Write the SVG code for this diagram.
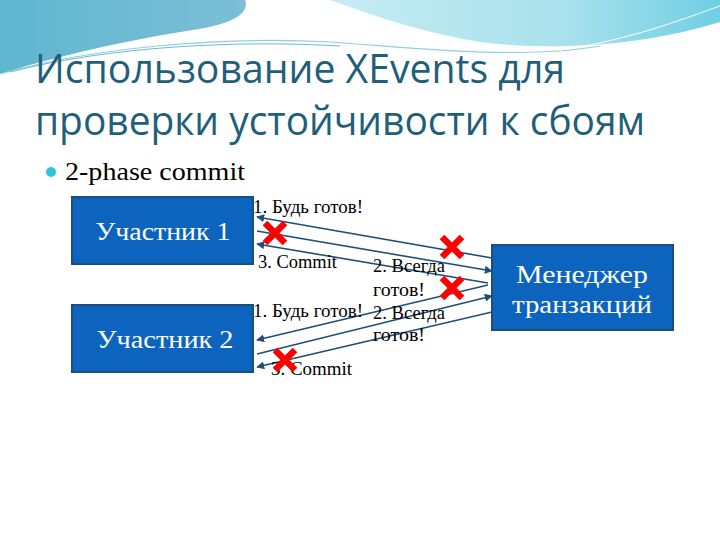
<svg xmlns="http://www.w3.org/2000/svg" width="720" height="540" viewBox="0 0 720 540">
<defs>
<linearGradient id="gl" x1="0" y1="0" x2="1" y2="0"><stop offset="0" stop-color="#5fb6cf"/><stop offset="1" stop-color="#7cbfd6"/></linearGradient>
<linearGradient id="gr" x1="0" y1="0" x2="1" y2="0"><stop offset="0" stop-color="#c6ecf2"/><stop offset="0.6" stop-color="#a9e1ec"/><stop offset="1" stop-color="#6fcfe3"/></linearGradient>
<marker id="ah" viewBox="0 0 10 10" refX="9" refY="5" markerWidth="5" markerHeight="5" orient="auto-start-reverse"><path d="M0,0 L10,5 L0,10 Z" fill="#1f4e79"/></marker>
<style>
.box{fill:#0d64bf;stroke:#1b4e80;stroke-width:2}
.bl{font-family:"Liberation Serif","DejaVu Serif",serif;font-size:26px;fill:#ffffff;text-anchor:middle}
.lbl{font-family:"Liberation Serif","DejaVu Serif",serif;font-size:18px;fill:#000000}
.ln{stroke:#1f4e79;stroke-width:1.6;fill:none}
.x{stroke:#ff0000;stroke-width:6.5;stroke-linecap:butt}
.title{font-family:"Open Sans","Noto Sans",sans-serif;font-size:40px;fill:#1f5f7a}
</style>
</defs>
<rect width="720" height="540" fill="#ffffff"/>
<g id="background">
<path d="M0,0 L245,0 C250,12 235,22 205,28 C140,38 70,52 0,74 Z" fill="url(#gl)"/>
<path d="M330,0 L720,0 L720,22 C650,44 560,52 480,42 C420,32 375,16 330,0 Z" fill="url(#gr)"/>
<path d="M0,74 C90,48 220,36 330,42 C420,48 520,60 600,46" stroke="#8fcfe0" stroke-width="1.2" fill="none"/>
<path d="M10,72 C110,46 240,40 340,46" stroke="#4aa6c4" stroke-width="0.8" fill="none"/>
<path d="M560,50 C630,40 680,20 720,6" stroke="#ffffff" stroke-width="1" fill="none"/>
</g>
<g id="title">
<text class="title" x="35" y="83" textLength="530" lengthAdjust="spacingAndGlyphs">Использование XEvents для</text>
<text class="title" x="35" y="135" textLength="610" lengthAdjust="spacingAndGlyphs">проверки устойчивости к сбоям</text>
</g>
<g id="bullet">
<circle cx="51" cy="172" r="5" fill="#2ec4d9"/>
<text x="65" y="180" textLength="180" lengthAdjust="spacingAndGlyphs" style="font-family:'Liberation Serif','DejaVu Serif',serif;font-size:25px;fill:#000">2-phase commit</text>
</g>
<g id="connectors">
<line class="ln" x1="492" y1="258" x2="257" y2="217" marker-end="url(#ah)"/>
<line class="ln" x1="257" y1="231" x2="492" y2="271" marker-end="url(#ah)"/>
<line class="ln" x1="488" y1="283" x2="257" y2="244" marker-end="url(#ah)"/>
<line class="ln" x1="488" y1="285" x2="257" y2="340" marker-end="url(#ah)"/>
<line class="ln" x1="257" y1="354" x2="492" y2="296" marker-end="url(#ah)"/>
<line class="ln" x1="492" y1="312" x2="257" y2="367" marker-end="url(#ah)"/>
</g>
<g id="labels">
<text class="lbl" x="253" y="213" textLength="110" lengthAdjust="spacingAndGlyphs">1. Будь готов!</text>
<text class="lbl" x="258" y="268" textLength="79" lengthAdjust="spacingAndGlyphs">3. Commit</text>
<text class="lbl" x="373" y="272" textLength="72" lengthAdjust="spacingAndGlyphs">2. Всегда</text>
<text class="lbl" x="373" y="296" textLength="52" lengthAdjust="spacingAndGlyphs">готов!</text>
<text class="lbl" x="253" y="317" textLength="110" lengthAdjust="spacingAndGlyphs">1. Будь готов!</text>
<text class="lbl" x="373" y="319" textLength="72" lengthAdjust="spacingAndGlyphs">2. Всегда</text>
<text class="lbl" x="373" y="341" textLength="52" lengthAdjust="spacingAndGlyphs">готов!</text>
<text class="lbl" x="271" y="375" textLength="81" lengthAdjust="spacingAndGlyphs">3. Commit</text>
</g>
<g id="node-participant1">
<rect class="box" x="72" y="197" width="181" height="67"/>
<text class="bl" x="163" y="240" textLength="135" lengthAdjust="spacingAndGlyphs">Участник  1</text>
</g>
<g id="node-participant2">
<rect class="box" x="72" y="305" width="181" height="67"/>
<text class="bl" x="165" y="348" textLength="137" lengthAdjust="spacingAndGlyphs">Участник  2</text>
</g>
<g id="node-manager">
<rect class="box" x="492" y="245" width="181" height="85"/>
<text class="bl" x="582" y="283" textLength="132" lengthAdjust="spacingAndGlyphs">Менеджер</text>
<text class="bl" x="582" y="313" textLength="140" lengthAdjust="spacingAndGlyphs">транзакций</text>
</g>
<g id="failures">
<path class="x" d="M265,223 L285,243 M285,223 L265,243"/>
<path class="x" d="M442,237 L462,257 M462,237 L442,257"/>
<path class="x" d="M442,278 L462,298 M462,278 L442,298"/>
<path class="x" d="M275,350 L295,370 M295,350 L275,370"/>
</g>
</svg>
